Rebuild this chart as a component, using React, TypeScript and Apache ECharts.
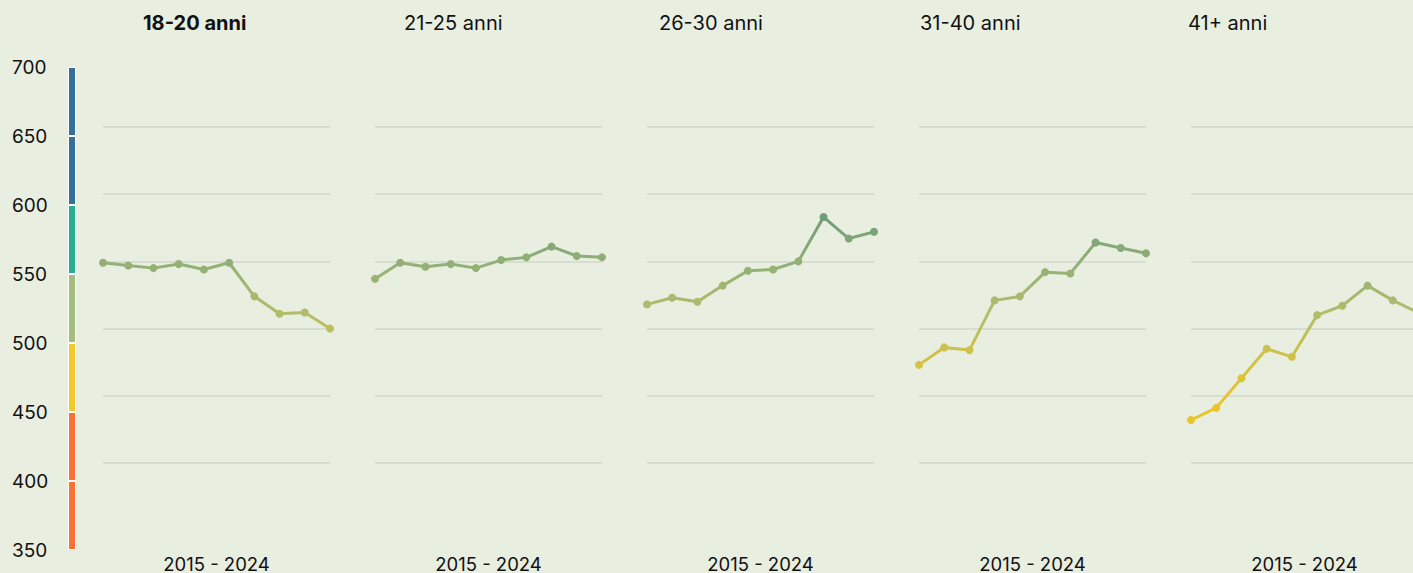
import React, { useEffect, useRef } from "react";
import * as echarts from "echarts";

const years = ["2015", "2016", "2017", "2018", "2019", "2020", "2021", "2022", "2023", "2024"];
const ageGroups = ["18-20 anni", "21-25 anni", "26-30 anni", "31-40 anni", "41+ anni"];

const s1820 = [549, 547, 545, 548, 544, 549, 524, 511, 512, 500];
const s2125 = [537, 549, 546, 548, 545, 551, 553, 561, 554, 553];
const s2630 = [518, 523, 520, 532, 543, 544, 550, 583, 567, 572];
const s3140 = [473, 486, 484, 521, 524, 542, 541, 564, 560, 556];
const s41 = [432, 441, 463, 485, 479, 510, 517, 532, 521, 512];
const seriesValues = [s1820, s2125, s2630, s3140, s41];

// colour scale bands (lower bounds, each 50 wide)
const bandStarts = [350, 400, 450, 500, 550, 600, 650];
const bandColors = ["#fe6f35", "#fe6f35", "#f2c92b", "#a4bd7e", "#28ae93", "#36709a", "#36709a"];
const bandWidth = 50;
const scaleMin = 350;
const scaleMax = 700;

const FONT = "Inter, 'Noto Sans', sans-serif";

const panelLeft0 = 103;
const panelStep = 272;
const panelWidth = 227;
const titleLefts = [143, 404, 659, 920, 1188];

export default function App() {
  const ref = useRef<HTMLDivElement>(null);

  useEffect(() => {
    if (!ref.current) return;
    const chart = echarts.init(ref.current, null, { renderer: "svg" });

    const grids: any[] = [
      { left: 68, width: 8, top: 67, height: 483, outerBoundsMode: "none", containLabel: false },
    ];
    const xAxes: any[] = [
      { gridIndex: 0, type: "category", data: ["scala"], show: false },
    ];
    const yAxes: any[] = [
      {
        gridIndex: 0,
        type: "value",
        min: scaleMin,
        max: scaleMax,
        interval: 50,
        axisLine: { show: false },
        axisTick: { show: false },
        splitLine: { show: false },
        axisLabel: {
          align: "left",
          margin: 56,
          fontSize: 19,
          color: "#111",
          fontFamily: FONT,
        },
      },
    ];
    const series: any[] = [
      {
        type: "bar",
        xAxisIndex: 0,
        yAxisIndex: 0,
        stack: "scale",
        barWidth: "100%",
        data: [scaleMin],
        itemStyle: { color: "rgba(0,0,0,0)" },
        silent: true,
      },
    ];
    bandStarts.forEach((b, i) => {
      series.push({
        type: "bar",
        xAxisIndex: 0,
        yAxisIndex: 0,
        stack: "scale",
        barWidth: "100%",
        data: [bandWidth],
        itemStyle: { color: bandColors[i], borderColor: "#ffffff", borderWidth: 1 },
      });
    });

    const lineSeriesIdx: number[] = [];
    const titles: any[] = [];
    ageGroups.forEach((g, i) => {
      const gi = i + 1;
      grids.push({
        left: panelLeft0 + panelStep * i,
        width: panelWidth,
        top: 127,
        height: 336,
        outerBoundsMode: "none",
        containLabel: false,
      });
      xAxes.push({
        gridIndex: gi,
        type: "category",
        data: years,
        boundaryGap: false,
        axisLine: { show: false },
        axisTick: { show: false },
        axisLabel: { show: false },
        name: `${years[0]} - ${years[years.length - 1]}`,
        nameLocation: "middle",
        nameGap: 91,
        nameTextStyle: { fontSize: 18.5, color: "#111", fontFamily: FONT },
      });
      yAxes.push({
        gridIndex: gi,
        type: "value",
        min: 400,
        max: 650,
        interval: 50,
        axisLine: { show: false },
        axisTick: { show: false },
        axisLabel: { show: false },
        splitLine: { show: true, lineStyle: { color: "#d3d9ca", width: 1.5 } },
      });
      lineSeriesIdx.push(series.length);
      series.push({
        type: "line",
        name: g,
        xAxisIndex: gi,
        yAxisIndex: gi,
        data: seriesValues[i],
        symbol: "circle",
        symbolSize: 8,
        lineStyle: { width: 3 },
      });
      titles.push({
        text: g,
        left: titleLefts[i],
        top: 13,
        padding: 0,
        textStyle: {
          fontSize: 20,
          fontWeight: i === 0 ? 700 : 400,
          color: "#111",
          fontFamily: FONT,
        },
      });
    });

    chart.setOption({
      animation: false,
      backgroundColor: "#e8eee0",
      title: titles,
      grid: grids,
      xAxis: xAxes,
      yAxis: yAxes,
      visualMap: {
        type: "continuous",
        show: false,
        seriesIndex: lineSeriesIdx,
        dimension: 1,
        min: 440,
        max: 590,
        inRange: { color: ["#ebc42a", "#d2c245", "#aebd6c", "#8fae78", "#6a9878"] },
      },
      series,
    });

    return () => chart.dispose();
  }, []);

  return (
    <div
      ref={ref}
      style={{ position: "absolute", left: 0, top: 0, width: 1413, height: 573 }}
    />
  );
}
